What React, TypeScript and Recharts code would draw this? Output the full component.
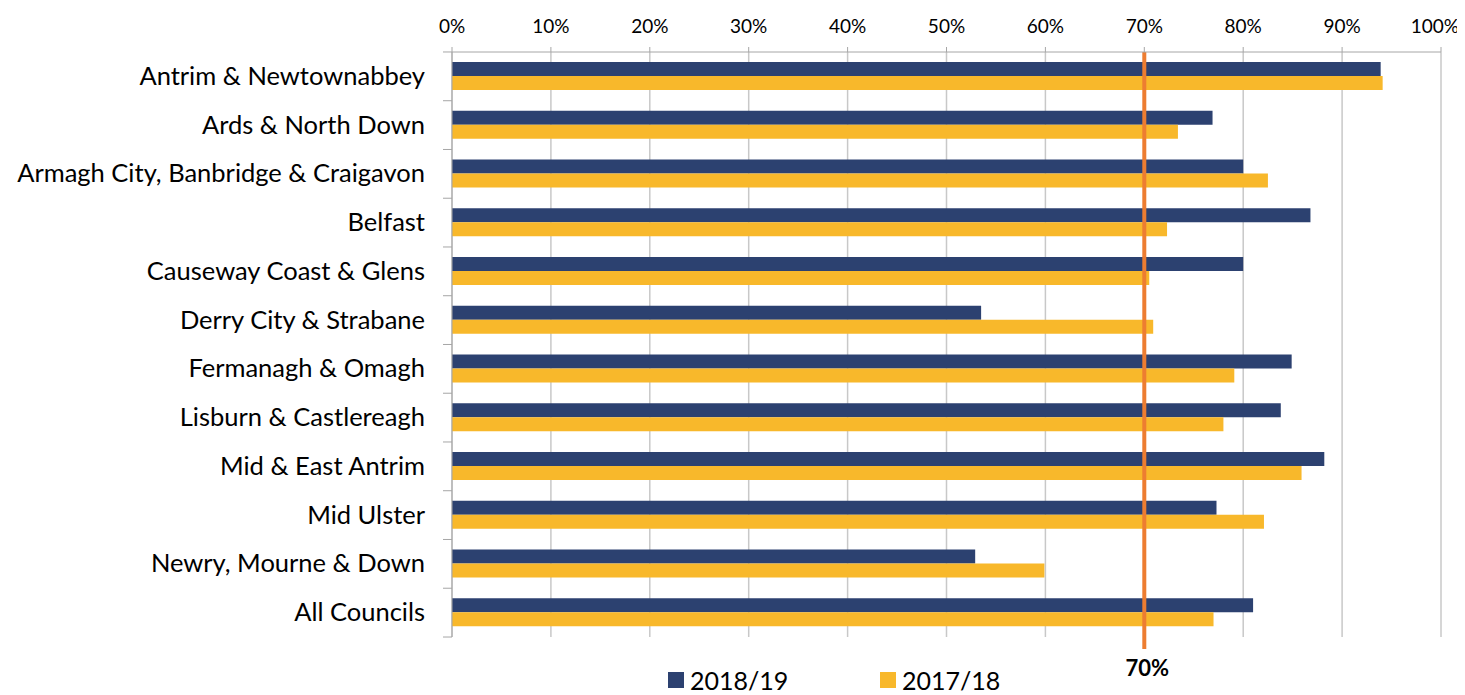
import { BarChart, Bar, XAxis, YAxis, CartesianGrid, ReferenceLine } from 'recharts'

const councils = [
  'Antrim & Newtownabbey',
  'Ards & North Down',
  'Armagh City, Banbridge & Craigavon',
  'Belfast',
  'Causeway Coast & Glens',
  'Derry City & Strabane',
  'Fermanagh & Omagh',
  'Lisburn & Castlereagh',
  'Mid & East Antrim',
  'Mid Ulster',
  'Newry, Mourne & Down',
  'All Councils',
]
const share2018 = [93.9, 76.9, 80.0, 86.8, 80.0, 53.5, 84.9, 83.8, 88.2, 77.3, 52.9, 81.0]
const share2017 = [94.1, 73.4, 82.5, 72.3, 70.5, 70.9, 79.1, 78.0, 85.9, 82.1, 59.9, 77.0]
const pctTicks = [0, 10, 20, 30, 40, 50, 60, 70, 80, 90, 100]
const target = 70

const NAVY = '#2C4170'
const GOLD = '#F8B82B'
const ORANGE = '#ED7D31'
const FONT = 'Lato, sans-serif'

const data = councils.map((name, i) => ({ name, y2018: share2018[i], y2017: share2017[i] }))

const HALF_BAND = 24.4

function CouncilTick(props: any) {
  const { x, y, payload, index } = props
  const axisX = x + 27
  return (
    <g>
      <line x1={axisX - 9} x2={axisX} y1={y - HALF_BAND} y2={y - HALF_BAND} stroke="#a6a6a6" />
      {index === councils.length - 1 && (
        <line x1={axisX - 9} x2={axisX} y1={y + HALF_BAND} y2={y + HALF_BAND} stroke="#a6a6a6" />
      )}
      <text x={x} y={y} dy={8.5} textAnchor="end" fontSize={25.5} fontFamily={FONT} fill="#000">
        {payload.value}
      </text>
    </g>
  )
}

function TargetLabel(props: any) {
  const { viewBox } = props
  const { x, y, height } = viewBox
  const bottom = y + height
  return (
    <g>
      <line x1={x} x2={x} y1={bottom} y2={bottom + 12} stroke={ORANGE} strokeWidth={4} />
      <text x={x + 3} y={bottom + 39} textAnchor="middle" fontSize={22} fontWeight="bold" fontFamily={FONT} fill="#000">
        {target}%
      </text>
    </g>
  )
}

function LegendBox() {
  const items = [
    { label: '2018/19', color: NAVY, left: 660 },
    { label: '2017/18', color: GOLD, left: 872 },
  ]
  return (
    <div style={{ position: 'absolute', left: 0, top: 660, width: 1449, height: 24, fontFamily: FONT }}>
      {items.map((it) => (
        <div key={it.label} style={{ position: 'absolute', left: it.left, top: 0, height: 24, display: 'flex', alignItems: 'center' }}>
          <span style={{ width: 16, height: 16, background: it.color, display: 'inline-block', marginRight: 6 }} />
          <span style={{ fontSize: 25, color: '#000', lineHeight: '24px' }}>{it.label}</span>
        </div>
      ))}
    </div>
  )
}

export default function App() {
  return (
    <div style={{ position: 'relative', width: 1449, height: 687, background: '#fff' }}>
      <style>{'.recharts-surface { overflow: visible; } .recharts-wrapper { overflow: visible; }'}</style>
      <BarChart
        width={1449}
        height={687}
        data={data}
        layout="vertical"
        barSize={14}
        barGap={0}
        margin={{ top: 0, right: 16, left: 0, bottom: 58 }}
      >
        <CartesianGrid horizontal={false} stroke="#c8c8c8" strokeWidth={1.5} />
        <XAxis
          type="number"
          orientation="top"
          domain={[0, 100]}
          ticks={pctTicks}
          tickFormatter={(v) => `${v}%`}
          height={44}
          tickSize={5}
          tickMargin={14}
          stroke="#a6a6a6"
          tick={{ fontSize: 19, fontFamily: FONT, fill: '#000' }}
        />
        <YAxis
          type="category"
          dataKey="name"
          width={444}
          tickLine={false}
          tickSize={0}
          tickMargin={27}
          stroke="#a6a6a6"
          interval={0}
          tick={<CouncilTick />}
        />
        <Bar dataKey="y2018" name="2018/19" fill={NAVY} isAnimationActive={false} />
        <Bar dataKey="y2017" name="2017/18" fill={GOLD} isAnimationActive={false} />
        <ReferenceLine x={target} stroke={ORANGE} strokeWidth={4} label={<TargetLabel />} />
      </BarChart>
      <LegendBox />
    </div>
  )
}
